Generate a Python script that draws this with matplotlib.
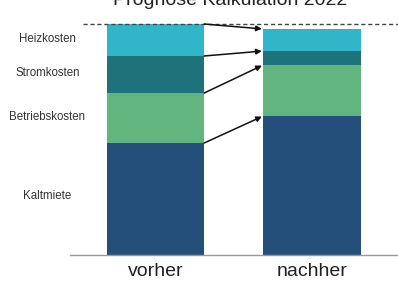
import matplotlib
matplotlib.use("Agg")
import matplotlib.pyplot as plt
import numpy as np

plt.rcParams['font.family'] = ['Liberation Sans', 'DejaVu Sans']

# data (relative units)
categories = ['vorher', 'nachher']
segments = ['Kaltmiete', 'Betriebskosten', 'Stromkosten', 'Heizkosten']
vorher = [112, 50, 37, 32]
nachher = [139, 51, 14, 22]
colors = ['#234f7a', '#62b57f', '#1e737a', '#31b5c9']

values = np.array([vorher, nachher])
x = np.arange(len(categories))
width = 0.623

fig = plt.figure(figsize=(3.98, 2.82), dpi=100)
ax = fig.add_axes([70/398, 27/282, 328/398, 255/282])

bottom = np.zeros(len(categories))
for i, seg in enumerate(segments):
    ax.bar(x, values[:, i], width, bottom=bottom, color=colors[i], linewidth=0)
    bottom += values[:, i]

cum = np.cumsum(values, axis=1)

# arrows between segment tops
for i in range(len(segments)):
    ax.annotate('', xy=(x[1] - width/2, cum[1, i]), xytext=(x[0] + width/2, cum[0, i]),
                arrowprops=dict(arrowstyle='-|>', color='#111111', lw=1.1,
                                mutation_scale=8, shrinkA=0, shrinkB=1))

# left segment labels
for i, seg in enumerate(segments):
    mid = cum[0, i] - values[0, i] / 2
    ax.text(-0.69, mid + (3 if i == 0 else 1), seg, ha='center', va='center',
            fontsize=8.3, color='#333333', clip_on=False)

ax.axhline(cum[0, -1], xmin=13/328, xmax=1, color='#444444', lw=1, ls=(0, (3, 2)))

ax.set_xlim(-0.546, 1.55)
ax.set_ylim(0, 255)
ax.set_yticks([])
ax.set_xticks(x)
ax.set_xticklabels(categories, fontsize=14, color='#222222')
ax.tick_params(axis='x', length=0, pad=6)
for s in ['top', 'right', 'left']:
    ax.spines[s].set_visible(False)
ax.spines['bottom'].set_color('#999999')
ax.spines['bottom'].set_linewidth(1)

fig.text(230/398, 1 - 5/282, 'Prognose Kalkulation 2022', ha='center', va='baseline',
         fontsize=14, color='#222222')

fig.savefig('out.png', dpi=100)
